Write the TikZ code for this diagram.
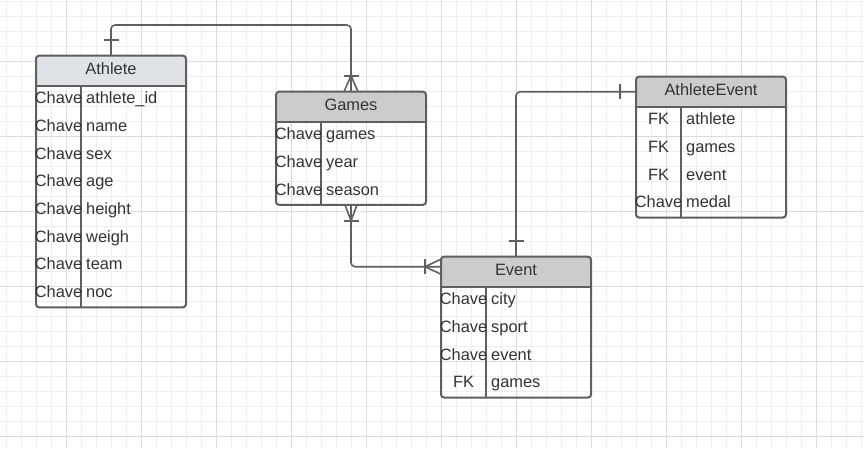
\documentclass[tikz,border=0pt]{standalone}
\usepackage{fontspec}
\setmainfont{Liberation Sans}
\usetikzlibrary{calc}
\definecolor{linegrey}{HTML}{5F5F5F}
\definecolor{txtgrey}{HTML}{333333}
\definecolor{hdrblue}{HTML}{DFE3E8}
\definecolor{hdrgrey}{HTML}{CCCCCC}
\definecolor{gridminor}{HTML}{EEEEEE}
\definecolor{gridmajor}{HTML}{DCDCDC}
\tikzset{
  entbox/.style={draw=linegrey, line width=2pt, rounded corners=3pt, minimum width=150pt, inner sep=0pt, outer sep=0pt},
  border/.style={draw=linegrey, line width=2pt},
  conn/.style={draw=linegrey, line width=1.6pt, line join=round},
  ertext/.style={text=txtgrey, font=\fontsize{16.4}{18}\selectfont, inner sep=0pt},
  hdrtext/.style={ertext, anchor=base},
  keytext/.style={ertext, anchor=base},
  valtext/.style={ertext, anchor=base west},
  minorline/.style={draw=gridminor, line width=1pt},
  majorline/.style={draw=gridmajor, line width=1pt},
}
% #1 name, #2 x, #3 y, #4 rows, #5 title, #6 header colour, #7 rows list
\newcommand{\erEntity}[7]{%
  \pgfmathsetmacro\erh{30+27.7*#4}
  \begin{scope}
    \clip[rounded corners=3pt] (#2,#3) rectangle ++(150,\erh);
    \fill[#6] (#2,#3) rectangle ++(150,30);
  \end{scope}
  \node[entbox, minimum height=\erh pt, anchor=north west] (#1) at (#2,#3) {};
  \draw[border] ({#2},{#3+30}) -- ++(150,0);
  \draw[border] ({#2+45},{#3+30}) -- ({#2+45},{#3+\erh});
  \node[hdrtext] (#1-title) at ({#2+75},{#3+18.5}) {#5};
  \foreach \rkey/\rval [count=\ri] in {#7} {
    \node[keytext] (#1-k\ri) at ({#2+22.5},{#3+48+27.7*(\ri-1)}) {\rkey};
    \node[valtext] (#1-v\ri) at ({#2+50},{#3+48+27.7*(\ri-1)}) {\rval};
  }
}
\begin{document}
\begin{tikzpicture}[x=1pt,y=-1pt]
\useasboundingbox (0,0) rectangle (864,448);
\fill[white] (0,0) rectangle (864,448);
\begin{scope}
  \clip (0,0) rectangle (864,448);
  \foreach \gx in {6.7,21.7,...,864} \draw[minorline] (\gx,0) -- (\gx,448);
  \foreach \gy in {1.7,16.7,...,448} \draw[minorline] (0,\gy) -- (864,\gy);
  \foreach \gx in {66.7,141.7,...,864} \draw[majorline] (\gx,0) -- (\gx,448);
  \foreach \gy in {61.7,136.7,...,448} \draw[majorline] (0,\gy) -- (864,\gy);
\end{scope}

\erEntity{athlete}{36}{55.7}{8}{Athlete}{hdrblue}{Chave/athlete\_id,Chave/name,Chave/sex,Chave/age,Chave/height,Chave/weigh,Chave/team,Chave/noc}
\erEntity{games}{276}{91.7}{3}{Games}{hdrgrey}{Chave/games,Chave/year,Chave/season}
\erEntity{aevent}{636}{76.7}{4}{AthleteEvent}{hdrgrey}{FK/athlete,FK/games,FK/event,Chave/medal}
\erEntity{event}{441}{256.7}{4}{Event}{hdrgrey}{Chave/city,Chave/sport,Chave/event,FK/games}

% connectors
\coordinate (topy) at (0,25);
\draw[conn, rounded corners=4pt] (athlete.north) -- (athlete.north |- topy) -| (games.north);
\coordinate (evl) at ($(event.north west)+(0,10)$);
\draw[conn, rounded corners=4pt] (games.south) |- (evl);
\coordinate (ael) at ($(aevent.north west)+(0,15)$);
\draw[conn, rounded corners=4pt] (event.north) |- (ael);

% markers
\draw[conn] ($(athlete.north)+(-7.5,-16)$) -- ++(15,0);
\draw[conn] ($(games.north)+(-7.5,-16)$) -- ++(15,0);
\draw[conn] ($(games.north)+(-7,0)$) -- ($(games.north)+(0,-16)$) -- ($(games.north)+(7,0)$);
\draw[conn] ($(games.south)+(-7.5,16)$) -- ++(15,0);
\draw[conn] ($(games.south)+(-6,0)$) -- ($(games.south)+(0,16)$) -- ($(games.south)+(6,0)$);
\draw[conn] ($(evl)+(-16,-7.5)$) -- ++(0,15);
\draw[conn] ($(evl)+(0,-7.5)$) -- ($(evl)+(-16,0)$) -- ($(evl)+(0,7.5)$);
\draw[conn] ($(event.north)+(-7.5,-16)$) -- ++(15,0);
\draw[conn] ($(ael)+(-16,-7.5)$) -- ++(0,15);
\end{tikzpicture}
\end{document}
